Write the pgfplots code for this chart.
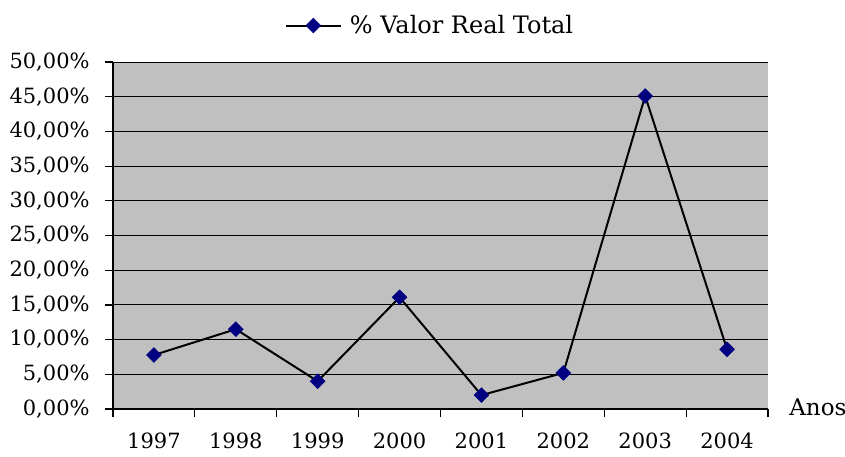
\documentclass[border=0pt]{standalone}
\usepackage{pgfplots}
\pgfplotsset{compat=1.18}
\usetikzlibrary{calc}
\usepackage{fontspec}
\setmainfont{DejaVu Serif}
\definecolor{plotgray}{RGB}{192,192,192}
\definecolor{marknavy}{RGB}{0,0,128}
\begin{document}
\fontsize{10.5}{12.5}\selectfont
\begin{tikzpicture}
\begin{axis}[
  name=ax,
  scale only axis,
  width=327.5pt, height=173.5pt,
  xmin=0.5, xmax=8.5,
  ymin=0, ymax=50,
  clip=false,
  axis lines*=left,
  axis line style={black, line width=0.6pt},
  axis background/.style={fill=plotgray},
  xtick={1,...,8},
  xticklabels={1997,1998,1999,2000,2001,2002,2003,2004},
  major x tick style={draw=none},
  minor xtick={0.5,1.5,...,8.5},
  minor tick length=4pt,
  major tick length=4pt,
  tick align=outside,
  tick style={black, line width=0.6pt},
  ytick={0,5,...,50},
  yticklabel={\pgfmathprintnumber[fixed,fixed zerofill,precision=2,use comma]{\tick}\%},
  /pgf/number format/assume math mode=true,
  ymajorgrids,
  grid style={black, line width=0.5pt},
  xticklabel style={yshift=-4pt},
  yticklabel style={xshift=-4pt},
  legend style={at={(0.4855,1.105)}, anchor=center, draw=none, fill=none,
    font=\fontsize{12}{14}\selectfont},
  legend cell align=left,
  legend image code/.code={
    \draw[#1] (0pt,0pt) -- (27.5pt,0pt);
    \draw[#1, only marks] plot coordinates {(13.75pt,0pt)};
  },
]
\addplot[black, line width=1pt, mark=square*,
  mark options={fill=marknavy, draw=marknavy, line width=0.3pt, rotate=45}, mark size=2.6pt]
  coordinates {
  (1,7.78) (2,11.5) (3,4.0) (4,16.1) (5,2.0) (6,5.2) (7,45.1) (8,8.6)
};
\addlegendentry{\hspace{2pt}\% Valor Real Total}
\node[anchor=west, inner sep=0pt, font=\fontsize{11.5}{13}\selectfont] at (axis description cs:1.032,0.005) {Anos};
\end{axis}
\pgfresetboundingbox
\path[use as bounding box] ($(ax.south west)+(-56.5pt,-23.5pt)$) rectangle ($(ax.north east)+(38.5pt,31pt)$);
\end{tikzpicture}
\end{document}
